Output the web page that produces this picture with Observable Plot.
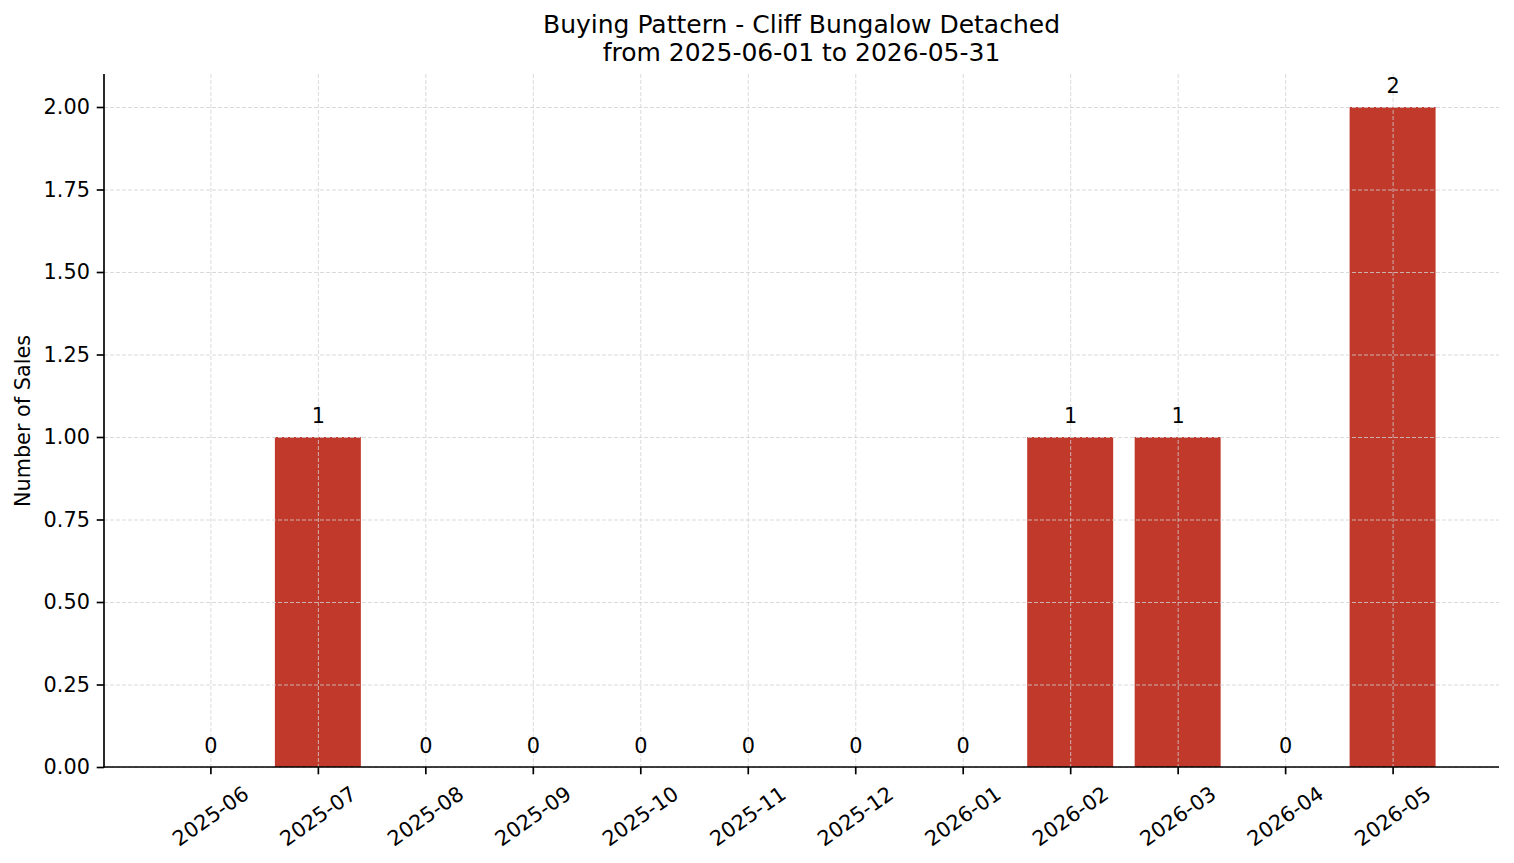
<!DOCTYPE html>
<html>
<head>
<meta charset="utf-8">
<script src="https://cdn.jsdelivr.net/npm/d3@7"></script>
<script src="https://cdn.jsdelivr.net/npm/@observablehq/plot@0.6"></script>
<style>
  html, body { margin: 0; padding: 0; background: #fff; }
  #title {
    width: 1514px; box-sizing: border-box; padding-left: 89px; padding-top: 11px;
    height: 67px; text-align: center; font-family: "DejaVu Sans", sans-serif;
    font-size: 25px; line-height: 28px; color: #000;
  }
  svg { display: block; }
</style>
</head>
<body>
<div id="title">Buying Pattern - Cliff Bungalow Detached<br>from 2025-06-01 to 2026-05-31</div>
<div id="chart"></div>
<script>
const months = ["2025-06","2025-07","2025-08","2025-09","2025-10","2025-11","2025-12","2026-01","2026-02","2026-03","2026-04","2026-05"];
const sales = [0,1,0,0,0,0,0,0,1,1,0,2];
const yTicks = [0,0.25,0.5,0.75,1,1.25,1.5,1.75,2];
const yLabel = "Number of Sales";

const data = months.map((m, i) => ({month: m, count: sales[i]}));
const fs = 20.8;

const spines = (index, scales, values, dims) => {
  const g = d3.create("svg:g");
  const x0 = dims.marginLeft, x1 = dims.width - dims.marginRight;
  const y0 = dims.marginTop, y1 = dims.height - dims.marginBottom;
  g.append("line").attr("x1", x0).attr("x2", x0).attr("y1", y0).attr("y2", y1 + 0.8)
    .attr("stroke", "#000").attr("stroke-width", 1.67);
  g.append("line").attr("x1", x0 - 0.8).attr("x2", x1).attr("y1", y1).attr("y2", y1)
    .attr("stroke", "#000").attr("stroke-width", 1.67);
  return g.node();
};

const chart = Plot.plot({
  width: 1514,
  height: 796,
  marginTop: 7,
  marginBottom: 96,
  marginLeft: 104,
  marginRight: 15,
  style: {fontFamily: "DejaVu Sans, sans-serif", fontSize: fs + "px", color: "#000", background: "#fff"},
  x: {type: "band", domain: months, paddingInner: 0.2, paddingOuter: 0.59, round: false, axis: null},
  y: {domain: [0, 2.1], axis: null},
  marks: [
    Plot.barY(data, {x: "month", y: "count", fill: "#c0392b"}),
    Plot.ruleY(yTicks, {y: d => d, stroke: "#d0d0d0", strokeWidth: 0.8, strokeDasharray: "4,2"}),
    Plot.ruleX(months, {x: d => d, stroke: "#d0d0d0", strokeWidth: 0.8, strokeDasharray: "4,2"}),
    spines,
    Plot.axisY({ticks: yTicks, tickFormat: d => d.toFixed(2), tickSize: 7.3, tickPadding: 7.3,
      strokeWidth: 1.67, stroke: "#000", fill: "#000", fontSize: fs, label: null}),
    Plot.axisX({tickSize: 7.3, tickFormat: () => "", strokeWidth: 1.67, stroke: "#000", label: null}),
    Plot.text(months, {x: d => d, frameAnchor: "bottom", dy: 49, rotate: -35,
      textAnchor: "middle", lineAnchor: "middle", fontSize: fs, fill: "#000"}),
    Plot.text([yLabel], {frameAnchor: "left", dx: -81, rotate: -90, textAnchor: "middle",
      lineAnchor: "middle", fontSize: fs, fill: "#000"}),
    Plot.text(data, {x: "month", y: "count", text: d => String(d.count), dy: -21,
      lineAnchor: "middle", fontSize: fs, fill: "#000"})
  ]
});
document.getElementById("chart").appendChild(chart);
</script>
</body>
</html>
